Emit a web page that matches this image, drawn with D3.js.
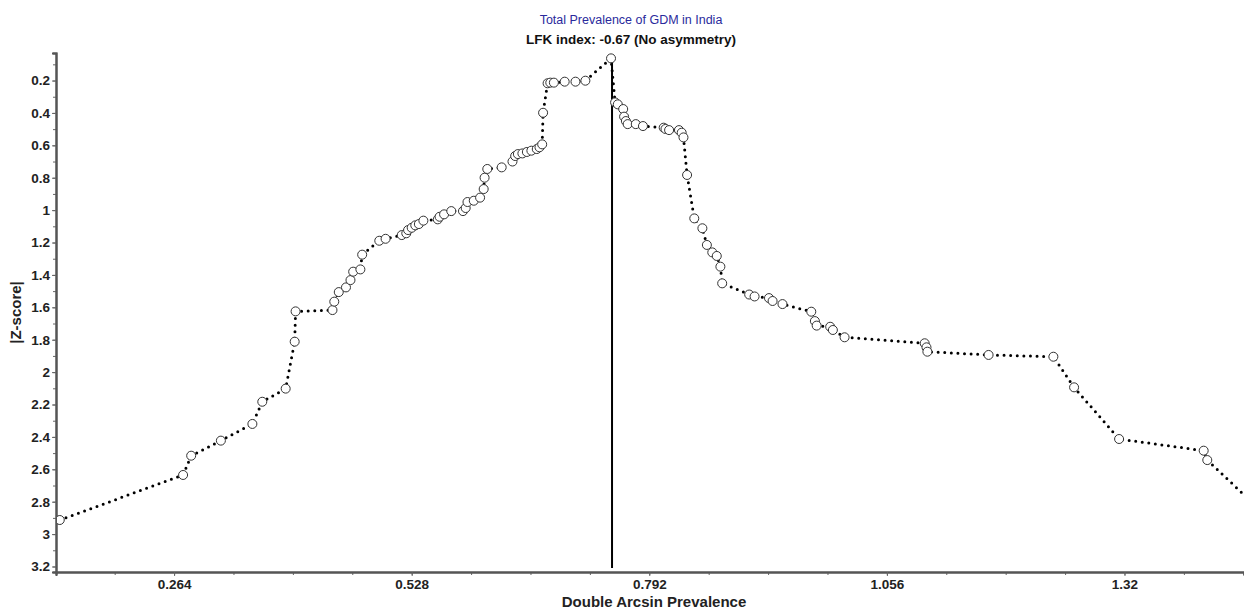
<!DOCTYPE html>
<html>
<head>
<meta charset="utf-8">
<script src="https://cdn.jsdelivr.net/npm/d3@7"></script>
<style>
  body { margin: 0; background: #fff; }
  text { font-family: "Liberation Sans", Arial, sans-serif; }
</style>
</head>
<body>
<script>
// double arcsin prevalence of each study, in plot order
const effects = [
  0.137, 0.274, 0.283, 0.316, 0.351, 0.362, 0.388, 0.398, 0.399, 0.440,
  0.442, 0.447, 0.455, 0.460, 0.463, 0.471, 0.473, 0.492, 0.499, 0.517,
  0.522, 0.524, 0.528, 0.532, 0.536, 0.541, 0.557, 0.559, 0.564, 0.572,
  0.585, 0.588, 0.590, 0.597, 0.604, 0.608, 0.609, 0.612, 0.628, 0.640,
  0.643, 0.646, 0.651, 0.656, 0.661, 0.667, 0.670, 0.673, 0.674, 0.679,
  0.682, 0.686, 0.698, 0.710, 0.721, 0.7495,
  0.754, 0.757, 0.763, 0.764, 0.766, 0.768, 0.777, 0.785, 0.808, 0.810,
  0.814, 0.825, 0.828, 0.830, 0.834, 0.842, 0.851, 0.856, 0.862, 0.867,
  0.871, 0.873, 0.903, 0.909, 0.925, 0.929, 0.940, 0.972, 0.976, 0.978,
  0.993, 0.996, 1.009, 1.098, 1.100, 1.101, 1.169, 1.241, 1.264, 1.314,
  1.408, 1.412, 1.480
];
// |Z-score| for the same studies
const zScores = [
  2.913, 2.635, 2.516, 2.423, 2.320, 2.183, 2.102, 1.812, 1.625, 1.617,
  1.565, 1.506, 1.477, 1.432, 1.380, 1.366, 1.275, 1.189, 1.177, 1.154,
  1.143, 1.123, 1.109, 1.094, 1.086, 1.065, 1.057, 1.041, 1.026, 1.006,
  1.006, 0.987, 0.950, 0.942, 0.923, 0.870, 0.800, 0.746, 0.736, 0.700,
  0.666, 0.654, 0.650, 0.641, 0.633, 0.623, 0.612, 0.594, 0.399, 0.217,
  0.213, 0.213, 0.207, 0.207, 0.201, 0.063,
  0.335, 0.347, 0.376, 0.423, 0.450, 0.469, 0.469, 0.481, 0.491, 0.499,
  0.506, 0.506, 0.522, 0.551, 0.783, 1.051, 1.112, 1.215, 1.261, 1.283,
  1.349, 1.452, 1.521, 1.533, 1.543, 1.561, 1.580, 1.627, 1.685, 1.713,
  1.720, 1.740, 1.785, 1.822, 1.847, 1.874, 1.894, 1.905, 2.094, 2.413,
  2.485, 2.543, 2.900
];
const xTicks = [0.264, 0.528, 0.792, 1.056, 1.32];
const yTicks = [0.2, 0.4, 0.6, 0.8, 1, 1.2, 1.4, 1.6, 1.8, 2, 2.2, 2.4, 2.6, 2.8, 3, 3.2];
const xDomain = [0.1328, 1.4528];
const yDomain = [0.03, 3.234];
const title = 'Total Prevalence of GDM in India';
const subtitle = 'LFK index: -0.67 (No asymmetry)';

const width = 1244;
const height = 609;
const margin = { left: 56, right: 1244, top: 53, bottom: 572 };

const svg = d3.select('body').append('svg').attr('width', width).attr('height', height);

const x = d3.scaleLinear().domain(xDomain).range([margin.left, margin.right]);
const y = d3.scaleLinear().domain(yDomain).range([margin.top, margin.bottom]);

const points = effects.map((e, i) => ({ x: e, z: zScores[i] }));
const peak = points.reduce((a, b) => (b.z < a.z ? b : a));

/*
	titles
*/
svg.append('text')
	.attr('x', 631).attr('y', 24)
	.attr('text-anchor', 'middle')
	.style('font-size', '12.5px')
	.attr('fill', '#2a2a9c')
	.text(title);

svg.append('text')
	.attr('x', 631).attr('y', 44)
	.attr('text-anchor', 'middle')
	.style('font-size', '13.5px')
	.attr('font-weight', 'bold')
	.attr('fill', '#111')
	.text(subtitle);

/*
	axes
*/
const gx = svg.append('g').attr('transform', `translate(0,${margin.bottom})`);
const xMinor = d3.range(0.198, xDomain[1], 0.066);
gx.append('g').call(d3.axisBottom(x).tickValues(xMinor).tickSize(3).tickFormat(''));
gx.append('g').call(d3.axisBottom(x).tickValues(xTicks).tickSize(4).tickFormat((d) => String(+d.toFixed(3))));
gx.selectAll('.domain').attr('stroke', '#555').attr('stroke-width', 2);
gx.selectAll('line').attr('stroke', '#666');
gx.selectAll('text')
	.attr('dy', 0).attr('y', 17)
	.style('font-size', '13.5px').attr('font-weight', 'bold').attr('fill', '#222');

const gy = svg.append('g').attr('transform', `translate(${margin.left},0)`);
const yMinor = d3.range(0.1, 3.25, 0.1);
gy.append('g').call(d3.axisLeft(y).tickValues(yMinor).tickSize(3).tickFormat(''));
gy.append('g').call(d3.axisLeft(y).tickValues(yTicks).tickSize(4).tickFormat((d) => String(+d.toFixed(1))));
gy.selectAll('.domain').attr('stroke', '#555').attr('stroke-width', 2);
gy.selectAll('line').attr('stroke', '#666');
gy.selectAll('text')
	.attr('x', -6)
	.style('font-size', '13.5px').attr('font-weight', 'bold').attr('fill', '#222');

svg.append('text')
	.attr('x', 654).attr('y', 607)
	.attr('text-anchor', 'middle')
	.style('font-size', '15px').attr('font-weight', 'bold').attr('fill', '#222')
	.text('Double Arcsin Prevalence');

svg.append('text')
	.attr('transform', `translate(21,${(margin.top + margin.bottom) / 2}) rotate(-90)`)
	.attr('text-anchor', 'middle')
	.style('font-size', '15px').attr('font-weight', 'bold').attr('fill', '#222')
	.text('|Z-score|');

/*
	vertical line at the peak study
*/
svg.append('line')
	.attr('x1', x(peak.x) + 1).attr('x2', x(peak.x) + 1)
	.attr('y1', y(peak.z)).attr('y2', margin.bottom - 4)
	.attr('stroke', '#000').attr('stroke-width', 2);

/*
	dotted Doi curve + study circles
*/
svg.append('clipPath').attr('id', 'plot')
	.append('rect')
	.attr('x', margin.left + 1).attr('y', margin.top)
	.attr('width', margin.right - margin.left).attr('height', margin.bottom - margin.top - 1);

const gPlot = svg.append('g').attr('clip-path', 'url(#plot)');

gPlot.append('path')
	.datum(points)
	.attr('fill', 'none')
	.attr('stroke', '#000')
	.attr('stroke-width', 3)
	.attr('stroke-linecap', 'round')
	.attr('stroke-dasharray', '0 6.6')
	.attr('d', d3.line().x((d) => x(d.x)).y((d) => y(d.z)));

gPlot.selectAll('circle')
	.data(points)
	.join('circle')
	.attr('cx', (d) => x(d.x))
	.attr('cy', (d) => y(d.z))
	.attr('r', 4.5)
	.attr('fill', '#fff')
	.attr('stroke', '#333')
	.attr('stroke-width', 1);
</script>
</body>
</html>
